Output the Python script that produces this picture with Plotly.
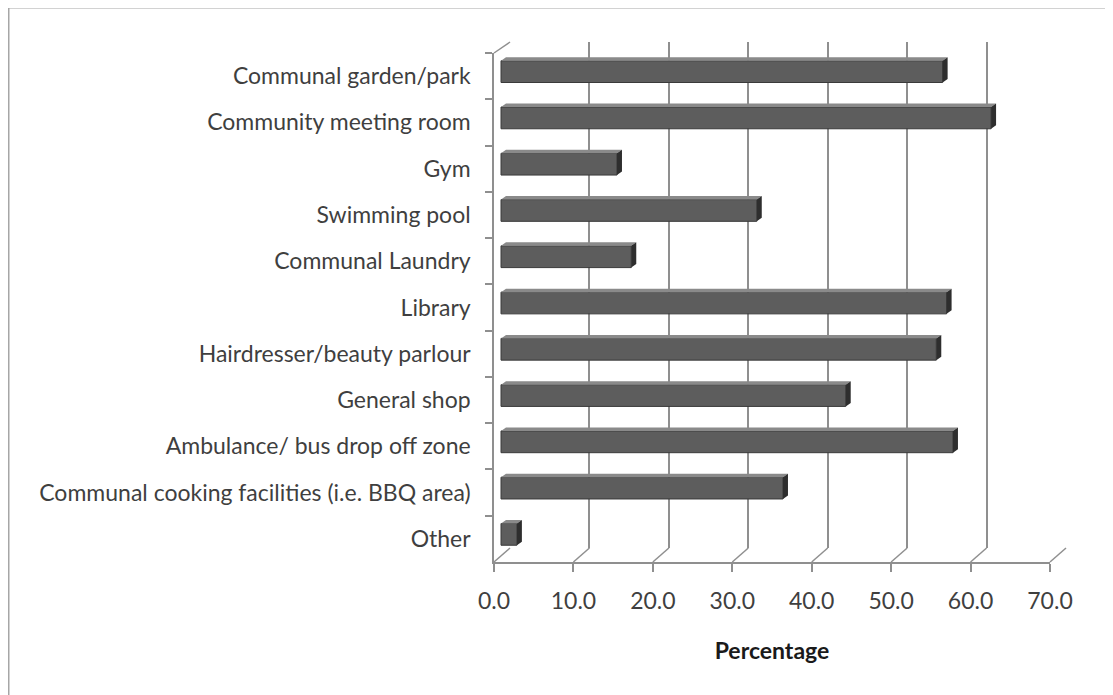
import plotly.graph_objects as go

# ---------------- data ----------------
categories = [
    "Communal garden/park",
    "Community meeting room",
    "Gym",
    "Swimming pool",
    "Communal Laundry",
    "Library",
    "Hairdresser/beauty parlour",
    "General shop",
    "Ambulance/ bus drop off zone",
    "Communal cooking facilities (i.e. BBQ area)",
    "Other",
]
values = [55.6, 61.7, 14.6, 32.2, 16.4, 56.1, 54.8, 43.4, 56.9, 35.5, 2.0]
tick_values = [0, 10, 20, 30, 40, 50, 60, 70]
x_title = "Percentage"

# ---------------- geometry (screen pixels; page body has an 8px margin) ----------------
OFF = 8
W_FIG, H_FIG = 1113 - OFF, 695 - OFF
PL, PR, PT, PB = 494, 1067, 42, 562          # overall plotting box (screen px)
PW, PH = PR - PL, PB - PT
FRONT_TOP = 53                               # top of front category band
FRONT_RIGHT = 1050                           # front x=70
S = (FRONT_RIGHT - PL) / 70.0                # px per unit
DEPTH_X, DEPTH_Y = 16, 14                    # wall depth offset
BAR_X0 = 501                                 # bar plane zero
BAR_SHIFT_UP = 4.5
BAND = (PB - FRONT_TOP) / len(categories)


def px(xp):
    return (xp - PL) / PW


def py(yp):
    return (PB - yp) / PH


GRID = "#8f8f8f"
TEXT = "#3f3f3f"
FONT = "Lato"
FS = 23

fig = go.Figure()

# back wall (gridlines) : x / y
fig.add_trace(go.Scatter(x=[None], y=[None], xaxis="x", yaxis="y",
                         showlegend=False, hoverinfo="skip"))

# bars plane : x2 / y2
positions = list(range(len(categories)))
fig.add_trace(go.Bar(
    x=values, y=positions, orientation="h", width=0.47,
    marker=dict(color="#5d5d5d", line=dict(color="#3a3a3a", width=1)),
    xaxis="x2", yaxis="y2", showlegend=False, hoverinfo="skip",
))

dx = 5 / S
dy = 3.5 / BAND
hw = 0.47 / 2
side_x, side_y, top_x, top_y = [], [], [], []
for p, v in zip(positions, values):
    top, bot = p - hw, p + hw
    side_x += [v, v + dx, v + dx, v, v, None]
    side_y += [top, top - dy, bot - dy, bot, top, None]
    top_x += [0, dx, v + dx, v, 0, None]
    top_y += [top, top - dy, top - dy, top, top, None]

fig.add_trace(go.Scatter(x=top_x, y=top_y, fill="toself", fillcolor="#8a8a8a",
                         mode="lines", line=dict(width=0), xaxis="x2", yaxis="y2",
                         showlegend=False, hoverinfo="skip"))
fig.add_trace(go.Scatter(x=side_x, y=side_y, fill="toself", fillcolor="#2e2e2e",
                         mode="lines", line=dict(width=0), xaxis="x2", yaxis="y2",
                         showlegend=False, hoverinfo="skip"))

# front axes : x3 / y3
fig.add_trace(go.Scatter(x=values, y=categories, mode="markers",
                         marker=dict(opacity=0), xaxis="x3", yaxis="y3",
                         showlegend=False, hoverinfo="skip"))

band_bottom = (PB - FRONT_TOP + BAR_SHIFT_UP) / BAND - 0.5
band_top = (PT - FRONT_TOP + BAR_SHIFT_UP) / BAND - 0.5

fig.update_layout(
    width=W_FIG, height=H_FIG, autosize=False,
    margin=dict(l=PL - OFF, r=W_FIG - (PR - OFF), t=PT - OFF, b=H_FIG - (PB - OFF), pad=0),
    paper_bgcolor="white", plot_bgcolor="rgba(0,0,0,0)",
    font=dict(family=FONT, color=TEXT, size=FS),
    showlegend=False,
    xaxis=dict(domain=[px(PL + DEPTH_X), px(PL + DEPTH_X + 70 * S)],
               range=[-0.01, 70.01], tickvals=tick_values, showgrid=True,
               gridcolor=GRID, gridwidth=1.5, showticklabels=False,
               zeroline=False, showline=False, ticks="", anchor="y"),
    yaxis=dict(domain=[py(PB - DEPTH_Y), 1], range=[0, 1], showgrid=False,
               showticklabels=False, zeroline=False, showline=False, anchor="x"),
    xaxis2=dict(domain=[0, 1], range=[(PL - BAR_X0) / S, (PR - BAR_X0) / S],
                visible=False, anchor="y2"),
    yaxis2=dict(domain=[0, 1], range=[band_bottom, band_top],
                visible=False, anchor="x2"),
    xaxis3=dict(domain=[0, px(FRONT_RIGHT)], range=[0, 70], tickvals=tick_values,
                tickformat=".1f", ticks="outside", ticklen=8, tickcolor=GRID,
                tickwidth=1.5, showline=True, linecolor=GRID, linewidth=1.5,
                showgrid=False, zeroline=False, anchor="y3", ticklabelstandoff=10,
                tickfont=dict(family=FONT, size=FS, color=TEXT),
                title=dict(text="<b>" + x_title + "</b>", standoff=30,
                           font=dict(family=FONT, size=FS, color="#1a1a1a"))),
    yaxis3=dict(domain=[0, py(FRONT_TOP)], type="category",
                categoryorder="array", categoryarray=categories,
                range=[len(categories) - 0.5, -0.5], tickson="boundaries",
                ticks="outside", ticklen=7, tickcolor=GRID, tickwidth=1.5,
                showline=True, linecolor=GRID, linewidth=1.5, showgrid=False,
                zeroline=False, anchor="x3", ticklabelstandoff=17,
                tickfont=dict(family=FONT, size=FS, color=TEXT)),
)

shapes = []
# floor oblique lines
for t in tick_values:
    shapes.append(dict(type="line", xref="paper", yref="paper",
                       x0=px(PL + S * t), y0=py(PB),
                       x1=px(PL + DEPTH_X + S * t), y1=py(PB - DEPTH_Y),
                       line=dict(color=GRID, width=1.5)))
# top-left wall oblique
shapes.append(dict(type="line", xref="paper", yref="paper",
                   x0=px(PL), y0=py(FRONT_TOP), x1=px(PL + DEPTH_X), y1=py(PT),
                   line=dict(color=GRID, width=1.5)))
# outer chart frame
shapes.append(dict(type="rect", xref="paper", yref="paper",
                   x0=px(8.5), y0=py(7.5), x1=px(1113 + 20), y1=py(695 + 20),
                   line=dict(color="#a6a6a6", width=2), layer="below"))
fig.update_layout(shapes=shapes)

fig.write_html("out.html")
